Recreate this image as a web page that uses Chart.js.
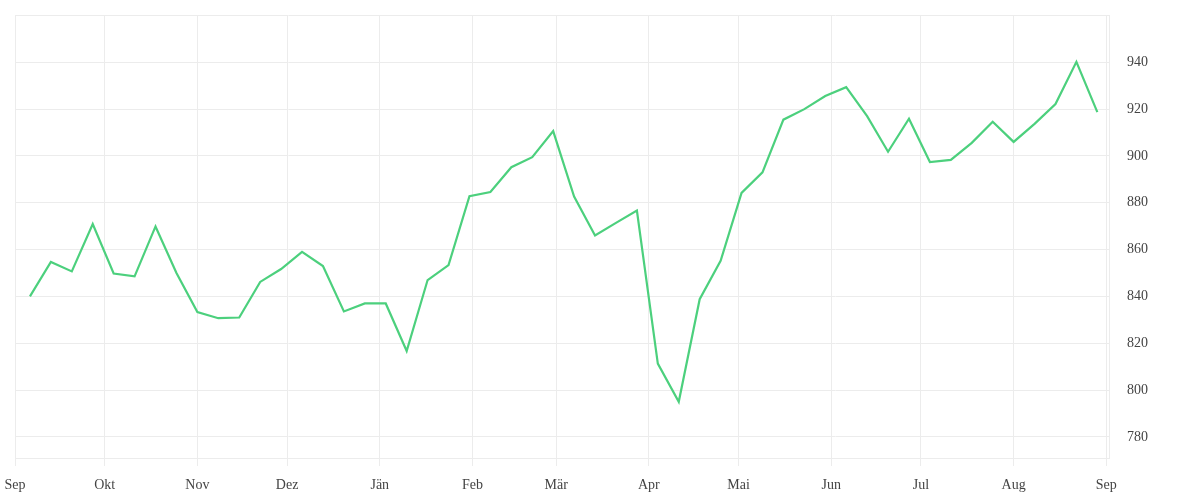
<!DOCTYPE html>
<html>
<head>
<meta charset="utf-8">
<script src="https://cdn.jsdelivr.net/npm/chart.js@4"></script>
<style>
  html, body { margin: 0; padding: 0; background: #ffffff; }
  #wrap { width: 1200px; height: 500px; }
</style>
</head>
<body>
<div id="wrap"><canvas id="c"></canvas></div>
<script>
// ---- data ----
const startDate = "2018-09-01";
const endDate = "2019-09-01";
const dates = [
  "2018-09-06","2018-09-13","2018-09-20","2018-09-27","2018-10-04","2018-10-11","2018-10-18","2018-10-25",
  "2018-11-01","2018-11-08","2018-11-15","2018-11-22","2018-11-29","2018-12-06","2018-12-13","2018-12-20",
  "2018-12-27","2019-01-03","2019-01-10","2019-01-17","2019-01-24","2019-01-31","2019-02-07","2019-02-14",
  "2019-02-21","2019-02-28","2019-03-07","2019-03-14","2019-03-21","2019-03-28","2019-04-04","2019-04-11",
  "2019-04-18","2019-04-25","2019-05-02","2019-05-09","2019-05-16","2019-05-23","2019-05-30","2019-06-06",
  "2019-06-13","2019-06-20","2019-06-27","2019-07-04","2019-07-11","2019-07-18","2019-07-25","2019-08-01",
  "2019-08-08","2019-08-15","2019-08-22","2019-08-29"
];
const values = [
  840, 854.7, 850.7, 870.9, 849.8, 848.6, 869.9, 850,
  833.3, 830.7, 831, 846.2, 851.7, 859, 853, 833.6,
  837, 837, 816.7, 847, 853.4, 882.8, 884.6, 895.2,
  899.5, 910.6, 882.7, 866, 871.4, 876.7, 811.3, 795,
  838.8, 855.2, 884.2, 893, 915.5, 920, 925.6, 929.4,
  917, 901.8, 915.9, 897.4, 898.3, 905.6, 914.6, 906,
  913.7, 922.2, 940.2, 918.7
];
const monthStarts = [
  "2018-09-01","2018-10-01","2018-11-01","2018-12-01","2019-01-01","2019-02-01","2019-03-01",
  "2019-04-01","2019-05-01","2019-06-01","2019-07-01","2019-08-01","2019-09-01"
];
const monthLabels = ["Sep","Okt","Nov","Dez","Jän","Feb","Mär","Apr","Mai","Jun","Jul","Aug","Sep"];
const yTickLabels = [780, 800, 820, 840, 860, 880, 900, 920, 940];
const yMin = 771;
const yMax = 960.2;

// ---- helpers ----
const DAY = 86400000;
const t0 = Date.parse(startDate + "T00:00:00Z");
const dayOf = s => (Date.parse(s + "T00:00:00Z") - t0) / DAY;
const monthTickValues = monthStarts.map(dayOf);
const xMax = dayOf(endDate) + 0.9;

const points = dates.map((d, i) => ({ x: dayOf(d), y: values[i] }));

const gridColor = '#ececec';
const textColor = '#444444';
const fontSpec = { family: '"Liberation Serif", serif', size: 14 };

new Chart(document.getElementById('c'), {
  type: 'line',
  data: {
    datasets: [{
      data: points,
      borderColor: '#4cd07d',
      borderWidth: 2.2,
      pointRadius: 0,
      pointHoverRadius: 0,
      tension: 0,
      fill: false
    }]
  },
  options: {
    responsive: true,
    maintainAspectRatio: false,
    animation: false,
    layout: { padding: { left: 15, right: 51, top: 15, bottom: 0 } },
    plugins: { legend: { display: false }, tooltip: { enabled: false } },
    scales: {
      x: {
        type: 'linear',
        min: 0,
        max: xMax,
        afterBuildTicks: scale => { scale.ticks = monthTickValues.map(v => ({ value: v })); },
        afterFit: scale => { scale.paddingLeft = 0; scale.paddingRight = 0; scale.height = 42; },
        ticks: {
          autoSkip: false,
          maxRotation: 0,
          padding: 11,
          color: textColor,
          font: fontSpec,
          callback: (value, index) => monthLabels[index]
        },
        grid: { color: gridColor, tickLength: 8, lineWidth: 1 },
        border: { display: true, color: gridColor }
      },
      y: {
        type: 'linear',
        position: 'right',
        min: yMin,
        max: yMax,
        afterFit: scale => { scale.paddingTop = 0; scale.paddingBottom = 0; scale.width = 40; },
        ticks: {
          stepSize: 20,
          padding: 18,
          color: textColor,
          font: fontSpec,
          callback: value => yTickLabels.includes(value) ? String(value) : ''
        },
        grid: { color: gridColor, drawTicks: false, lineWidth: 1 },
        border: { display: true, color: gridColor }
      }
    }
  }
});
</script>
</body>
</html>
